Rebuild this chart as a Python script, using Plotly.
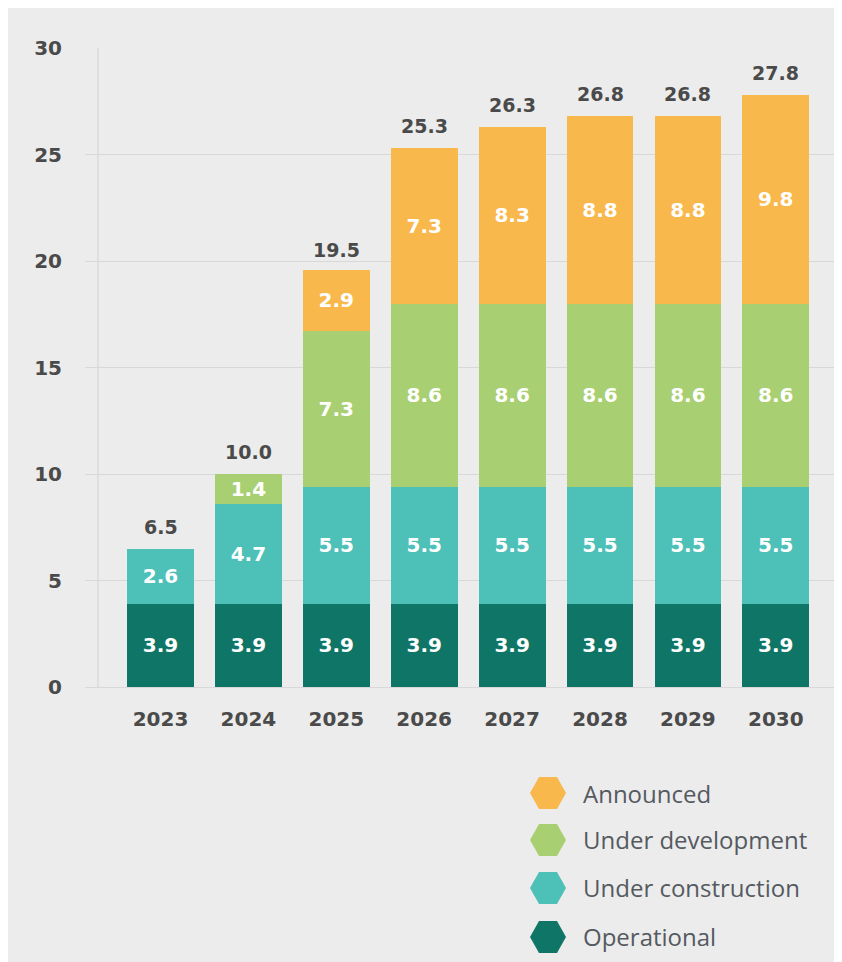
import plotly.graph_objects as go

years = ["2023", "2024", "2025", "2026", "2027", "2028", "2029", "2030"]
operational = [3.9, 3.9, 3.9, 3.9, 3.9, 3.9, 3.9, 3.9]
under_construction = [2.6, 4.7, 5.5, 5.5, 5.5, 5.5, 5.5, 5.5]
under_development = [None, 1.4, 7.3, 8.6, 8.6, 8.6, 8.6, 8.6]
announced = [None, None, 2.9, 7.3, 8.3, 8.8, 8.8, 9.8]
totals = [6.5, 10.0, 19.5, 25.3, 26.3, 26.8, 26.8, 27.8]

series = [
    ("Operational", operational, "#0f7667"),
    ("Under construction", under_construction, "#4dc0b8"),
    ("Under development", under_development, "#a9cf73"),
    ("Announced", announced, "#f9b84c"),
]

NUMFONT = "DejaVu Sans"
LEGFONT = "Open Sans"
TXT = "#4a4a4a"
BG = "#ececec"
GRID = "#d8d8d8"

W, H = 842, 962
L, R, T, B = 77, 15, 40, 283
pw, ph = W - L - R, H - T - B

def px_x(px):
    return (px - L) / pw

def px_y(py):
    return (H - B - py) / ph

fig = go.Figure()
for name, vals, col in series:
    fig.add_trace(go.Bar(
        x=years, y=vals, name=name, marker=dict(color=col, line=dict(width=0)),
        text=vals, texttemplate="%{y:.1f}", textposition="inside",
        insidetextanchor="middle", textangle=0,
        textfont=dict(color="white", size=20, family=NUMFONT, weight="bold"),
        showlegend=False, hoverinfo="skip",
    ))

annotations = []
for i, tot in enumerate(totals):
    annotations.append(dict(x=i, y=tot, xref="x", yref="y", text=f"{tot:.1f}",
                            showarrow=False, yanchor="bottom", yshift=9,
                            font=dict(color=TXT, size=19, family=NUMFONT, weight="bold")))

# category span: 87.9 px per category, first centre at 152.5 px
cw = 87.9
x0 = -(152.5 - L) / cw
fig.update_xaxes(type="category", range=[x0, x0 + pw / cw], showgrid=False, zeroline=False,
                 showline=False, ticks="", ticklabelstandoff=18,
                 tickfont=dict(size=20, family=NUMFONT, color=TXT, weight="bold"))
fig.update_yaxes(range=[0, 30], dtick=5, showgrid=True, gridcolor=GRID, gridwidth=1.3,
                 zeroline=True, zerolinecolor=GRID, zerolinewidth=1.3,
                 showline=False, ticks="", ticklabelstandoff=22,
                 tickfont=dict(size=20, family=NUMFONT, color=TXT, weight="bold"))

shapes = [dict(type="line", xref="paper", yref="y", x0=px_x(90), x1=px_x(90),
               y0=0, y1=30, line=dict(color=GRID, width=1.3), layer="below")]
legend_items = [("Announced", "#f9b84c", 785), ("Under development", "#a9cf73", 832),
                ("Under construction", "#4dc0b8", 880), ("Operational", "#0f7667", 929)]
hexpath = "M -18,0 L -9,16 L 9,16 L 18,0 L 9,-16 L -9,-16 Z"
for name, col, py in legend_items:
    shapes.append(dict(type="path", xref="paper", yref="paper",
                       xsizemode="pixel", ysizemode="pixel",
                       xanchor=px_x(540), yanchor=px_y(py), path=hexpath,
                       fillcolor=col, line=dict(width=0)))
    annotations.append(dict(xref="paper", yref="paper", x=px_x(573), y=px_y(py),
                            xanchor="left", yanchor="middle", showarrow=False,
                            text=name, font=dict(size=24, family=LEGFONT, color="#555a60")))

fig.update_layout(
    barmode="stack", bargap=0.24, width=W, height=H,
    margin=dict(l=L, r=R, t=T, b=B, autoexpand=False),
    paper_bgcolor=BG, plot_bgcolor=BG,
    shapes=shapes, annotations=annotations,
    uniformtext=dict(minsize=20, mode="show"),
)

fig.write_html("out.html")
